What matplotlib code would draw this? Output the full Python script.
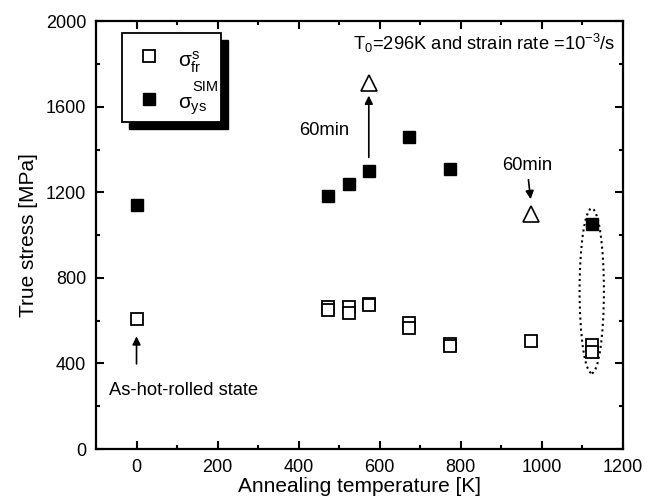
import matplotlib
matplotlib.use("Agg")
import matplotlib.pyplot as plt
from matplotlib.patches import Ellipse, Rectangle
from matplotlib.ticker import MultipleLocator

plt.rcParams['font.family'] = ['Liberation Sans', 'DejaVu Sans']
plt.rcParams['mathtext.fontset'] = 'custom'
plt.rcParams['mathtext.rm'] = 'Liberation Sans'
plt.rcParams['mathtext.it'] = 'Liberation Sans'
plt.rcParams['mathtext.bf'] = 'Liberation Sans:bold'

# sigma_fr^s (open squares)
fr_temp = [0, 473, 473, 523, 523, 573, 573, 673, 673, 773, 773, 973, 1123, 1123]
fr_stress = [610, 665, 650, 665, 635, 680, 672, 590, 565, 490, 482, 505, 485, 455]

# sigma_ys^SIM (filled squares)
ys_temp = [0, 473, 523, 573, 673, 773, 1123]
ys_stress = [1140, 1185, 1240, 1300, 1460, 1310, 1050]

# 60 min anneals (open triangles)
tri_temp = [573, 973]
tri_stress = [1710, 1100]

fig = plt.figure(figsize=(6.53, 5.04), dpi=100)
ax = fig.add_axes([0.147, 0.109, 0.807, 0.849])

ax.plot(fr_temp, fr_stress, 's', ms=9, mfc='white', mec='black', mew=1.3, ls='none')
ax.plot(ys_temp, ys_stress, 's', ms=9, mfc='black', mec='black', mew=1.0, ls='none')
ax.plot(tri_temp, tri_stress, '^', ms=11, mfc='white', mec='black', mew=1.2, ls='none')

ax.add_patch(Ellipse((1123, 740), 60, 770, fill=False, ls=':', lw=1.5, ec='black'))

arr = dict(arrowstyle='-|>', color='black', lw=1.2, mutation_scale=12)
ax.annotate('', xy=(0, 540), xytext=(0, 385), arrowprops=arr)
ax.annotate('', xy=(573, 1665), xytext=(573, 1350), arrowprops=arr)
ax.annotate('', xy=(973, 1155), xytext=(966, 1272), arrowprops=arr)

ax.text(-67, 276, 'As-hot-rolled state', fontsize=13.2, va='center', ha='left')
ax.text(463, 1490, '60min', fontsize=13.2, va='center', ha='center')
ax.text(963, 1327, '60min', fontsize=13.2, va='center', ha='center')
ax.text(533, 1897, r'T$_0$=296K and strain rate =10$^{-3}$/s', fontsize=13.2,
        va='center', ha='left')

# legend box with black shadow
sh = Rectangle((0.062, 0.748), 0.188, 0.208, transform=ax.transAxes,
               fc='black', ec='black', zorder=5)
bx = Rectangle((0.049, 0.764), 0.188, 0.208, transform=ax.transAxes,
               fc='white', ec='black', lw=1.3, zorder=6)
ax.add_patch(sh)
ax.add_patch(bx)
ax.plot([0.1], [0.918], 's', ms=8, mfc='white', mec='black', mew=1.3,
        transform=ax.transAxes, zorder=7)
ax.plot([0.1], [0.818], 's', ms=8, mfc='black', mec='black',
        transform=ax.transAxes, zorder=7)
ax.text(0.155, 0.905, r'$\sigma_{fr}^{s}$', fontsize=15, transform=ax.transAxes,
        va='center', ha='left', zorder=7)
ax.text(0.155, 0.80, r'$\sigma_{ys}$', fontsize=15, transform=ax.transAxes,
        va='center', ha='left', zorder=7)
ax.text(0.183, 0.845, 'SIM', fontsize=10.5, transform=ax.transAxes,
        va='center', ha='left', zorder=7)

ax.set_xlim(-100, 1200)
ax.set_ylim(0, 2000)
ax.xaxis.set_major_locator(MultipleLocator(200))
ax.xaxis.set_minor_locator(MultipleLocator(100))
ax.yaxis.set_major_locator(MultipleLocator(400))
ax.yaxis.set_minor_locator(MultipleLocator(200))
ax.tick_params(which='both', direction='in', top=True, right=True, labelsize=13)
ax.tick_params(which='major', length=6, width=1.5, pad=7)
ax.tick_params(which='minor', length=3, width=1.5)
for s in ax.spines.values():
    s.set_linewidth(1.6)

ax.set_xlabel('Annealing temperature [K]', fontsize=15, labelpad=1)
ax.set_ylabel('True stress [MPa]', fontsize=15, labelpad=6)

fig.savefig('out.png', dpi=100)
